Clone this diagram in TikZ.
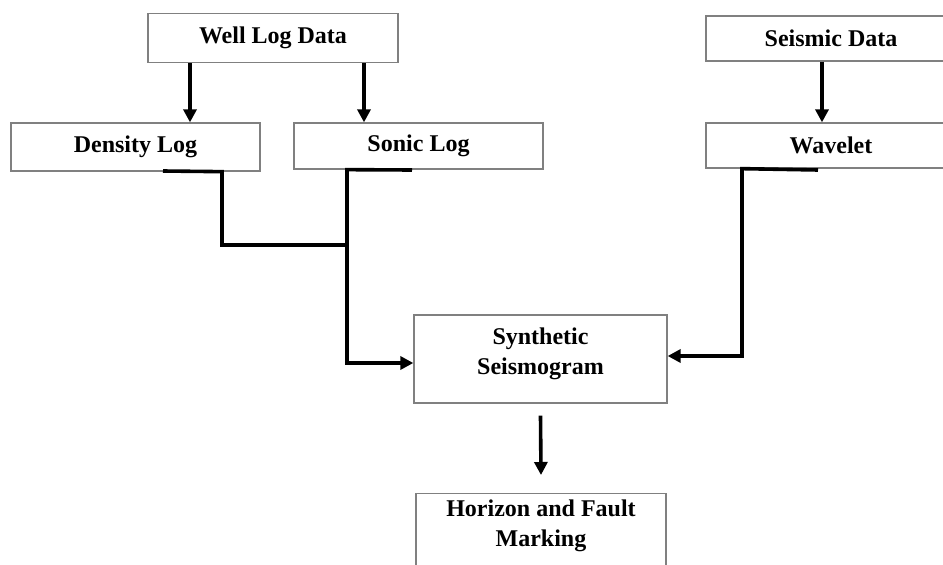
\documentclass[tikz,border=0pt]{standalone}
\usepackage{fontspec}
\setmainfont{Liberation Serif}
\usetikzlibrary{arrows.meta}
\begin{document}
\begin{tikzpicture}[x=1pt,y=-1pt,
  box/.style={draw=black!50, line width=1.3pt, fill=white, inner sep=0pt,
    align=center, font=\fontsize{24}{30}\selectfont\bfseries},
  txt/.style={inner sep=0pt, align=center, font=\fontsize{24}{30}\selectfont\bfseries},
  link/.style={line width=3.6pt, line join=miter},
  arr/.style={link, -{Triangle[length=13pt,width=13pt]}}]
  \useasboundingbox (0,0) rectangle (943,565);
  \clip (0,0) rectangle (943,565);

  % boxes
  \node[box, minimum width=250pt, minimum height=49pt] (well)    at (273,38)    {Well Log Data};
  \node[box, minimum width=249pt, minimum height=48pt] (density) at (135.5,147) {Density Log};
  \node[box, minimum width=249pt, minimum height=46pt] (sonic)   at (418.5,146) {Sonic Log};
  \node[box, minimum width=250pt, minimum height=45pt] (seismic) at (831,38.5)  {Seismic Data};
  \node[box, minimum width=250pt, minimum height=45pt] (wavelet) at (831,145.5) {Wavelet};
  \node[box, minimum width=253pt, minimum height=88pt] (synth)   at (540.5,359) {};
  \node[txt] (synthtxt) at (540.5,354) {Synthetic\\Seismogram};
  \node[box, minimum width=250pt, minimum height=90pt, anchor=north] (horizon) at (541,493) {};
  \node[txt] (horizontxt) at (541,526) {Horizon and Fault\\Marking};

  % reference points for the connectors
  \coordinate (xa) at (190,0);
  \coordinate (xb) at (364,0);
  \coordinate (xc) at (822,0);
  \coordinate (dj) at (222,245);
  \coordinate (sj) at (347,245);
  \coordinate (wj) at (742,0);
  \coordinate (ys) at (0,363);
  \coordinate (yw) at (0,356);

  % data to logs
  \draw[arr] (well.south -| xa) -- (density.north -| xa);
  \draw[arr] (well.south -| xb) -- (sonic.north -| xb);
  \draw[arr] (seismic.south -| xc) -- (wavelet.north -| xc);

  % density and sonic logs merge into the synthetic seismogram
  \draw[link] (163,171) -- (dj |- density.south) -- (dj) -- (sj);
  \draw[arr] (412,170) -- (sj |- sonic.south) -- (sj |- ys) -- (synth.west |- ys);

  % wavelet into the synthetic seismogram
  \draw[arr] (818,170) -- (wj |- wavelet.south) -- (wj |- yw) -- (synth.east |- yw);

  % synthetic seismogram to interpretation
  \draw[arr] ([yshift=-12pt]synth.south) -- ([yshift=18pt]horizon.north);
\end{tikzpicture}
\end{document}
